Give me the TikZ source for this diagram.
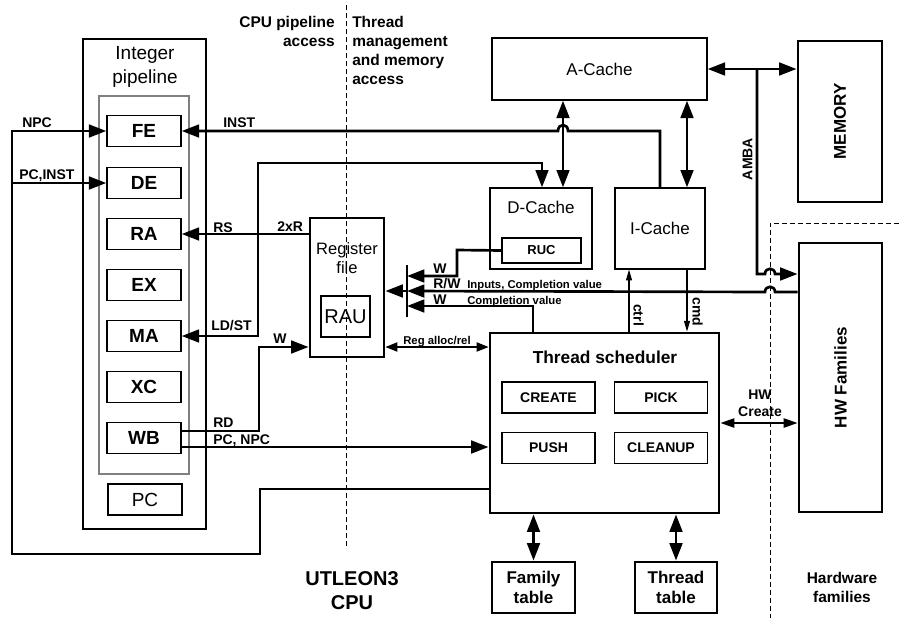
\documentclass[tikz,border=0pt]{standalone}
\usepackage{fontspec}
\setmainfont{Liberation Sans}
\usetikzlibrary{arrows.meta}

\tikzset{
  >={Triangle[length=13pt,width=9.5pt]},
  blk/.style={draw,line width=1pt,inner sep=0pt,font=\fontsize{12.75}{14.5}\selectfont},
  thk/.style={draw,line width=2.2pt,inner sep=0pt},
  stage/.style={draw,line width=1.1pt,inner sep=0pt,minimum width=55.5pt,minimum height=23.25pt,
    font=\fontsize{14.25}{16}\selectfont\bfseries},
  sub/.style={draw,line width=1pt,inner sep=0pt,minimum width=69.75pt,minimum height=23.25pt,
    font=\fontsize{10.5}{12}\selectfont\bfseries},
  lbl/.style={inner sep=0pt,anchor=base west,font=\fontsize{10.5}{12}\selectfont\bfseries},
  small/.style={inner sep=0pt,anchor=base west,font=\fontsize{8.5}{10}\selectfont\bfseries},
  big/.style={align=center,inner sep=0pt,font=\fontsize{11.6}{14.25}\selectfont\bfseries},
  wire/.style={line width=2pt},
  midwire/.style={line width=1.3pt,>={Triangle[length=10.5pt,width=7pt]}},
  thinwire/.style={line width=0.8pt,>={Triangle[length=8pt,width=4.5pt]}},
  dashline/.style={line width=0.75pt,dash pattern=on 3.75pt off 2.25pt},
}

\begin{document}
\begin{tikzpicture}[x=0.75pt,y=-0.75pt]
  \useasboundingbox (0,0) rectangle (899,618);

  % integer pipeline
  \node[thk,minimum width=92.25pt,minimum height=367.5pt] (ipipe) at (144.5,284) {};
  \node[draw=gray,line width=0.9pt,minimum width=67.5pt,minimum height=283.5pt] (stages) at (144,285) {};
  \node[align=center,font=\fontsize{14.25}{18.2}\selectfont] (iptitle) at (145,67) {Integer\\pipeline};
  \node[stage] (fe) at (144,131) {FE};
  \node[stage] (de) at (144,183) {DE};
  \node[stage] (ra) at (144,234) {RA};
  \node[stage] (ex) at (144,285) {EX};
  \node[stage] (ma) at (144,336) {MA};
  \node[stage] (xc) at (144,387) {XC};
  \node[stage] (wb) at (144,438) {WB};
  \node[blk,minimum width=55.5pt,minimum height=23.25pt,font=\fontsize{14.25}{16}\selectfont] (pc) at (145,499.5) {PC};

  % register file
  \node[thk,minimum width=55.5pt,minimum height=104.25pt] (rf) at (347,287.5) {};
  \node[align=center,font=\fontsize{12.4}{14.5}\selectfont] (rftitle) at (347,258) {Register\\file};
  \node[blk,minimum width=36.75pt,minimum height=30.75pt,font=\fontsize{15}{17}\selectfont] (rau) at (345.5,316.5) {RAU};

  % caches and memory
  \node[blk,minimum width=161.25pt,minimum height=46.5pt] (ac) at (599.5,69) {A-Cache};
  \node[blk,minimum width=76.5pt,minimum height=60.75pt] (dc) at (541,228.5) {};
  \node[font=\fontsize{12.75}{14}\selectfont] (dctitle) at (541,207) {D-Cache};
  \node[blk,minimum width=59.25pt,minimum height=18.75pt,font=\fontsize{9.75}{11}\selectfont\bfseries] (ruc) at (541.5,250.5) {RUC};
  \node[blk,minimum width=67.5pt,minimum height=60.75pt] (ic) at (660,228.5) {I-Cache};
  \node[thk,minimum width=63pt,minimum height=120.75pt] (mem) at (840,121.5) {};
  \node[rotate=90,font=\fontsize{12.75}{14}\selectfont\bfseries] (memtxt) at (840,121.5) {MEMORY};
  \node[thk,minimum width=62.25pt,minimum height=201.75pt] (hw) at (840.5,377.5) {};
  \node[rotate=90,font=\fontsize{12.75}{14}\selectfont\bfseries] (hwtxt) at (840.5,377.5) {HW Families};

  % thread scheduler
  \node[thk,minimum width=171.75pt,minimum height=135pt] (ts) at (604.5,423) {};
  \node[font=\fontsize{13}{15}\selectfont\bfseries] (tstitle) at (605,357) {Thread scheduler};
  \node[sub] (create) at (548.5,397.5) {CREATE};
  \node[sub] (pick) at (661,397.5) {PICK};
  \node[sub] (push) at (548.5,448) {PUSH};
  \node[sub] (cleanup) at (661,448) {CLEANUP};
  \node[thk,minimum width=62.25pt,minimum height=38.25pt,align=center,
    font=\fontsize{12.75}{14.5}\selectfont\bfseries] (ft) at (533.5,587.5) {Family\\table};
  \node[thk,minimum width=61.5pt,minimum height=38.25pt,align=center,
    font=\fontsize{12.75}{14.5}\selectfont\bfseries] (tt) at (676,587.5) {Thread\\table};

  % region borders and captions
  \draw[dashline] (346,5) -- (346,547);
  \draw[dashline] (899,223) -- (770,223) -- (770,618);
  \node[big,anchor=east,align=right] (cpuacc) at (335,31) {CPU pipeline\\access};
  \node[big,anchor=west,align=left] (thracc) at (352,50) {Thread\\management\\and memory\\access};
  \node[align=center,font=\fontsize{15}{18}\selectfont\bfseries] (cpu) at (352,591) {UTLEON3\\CPU};
  \node[big] (hwfam) at (842,587) {Hardware\\families};

  % register write bus
  \coordinate (bustop) at (407,265);
  \coordinate (busbot) at (407,317);
  \coordinate (busw) at (407,276);
  \coordinate (busrw) at (407,291);
  \coordinate (busc) at (407,306);
  \draw[line width=2pt] (bustop) -- (busbot);
  \draw[wire,->] (busrw) -- (rf.east |- busrw);

  % pipeline connections
  \draw[wire,->] (ts.west |- 0,489) -| (260,554) -| (12,131) -- (fe.west);
  \draw[wire,->] (12,183) -- (de.west);
  \draw[wire,->] (ic.north) -- (660,131) -- (568,131) .. controls (568,123) and (558,123) .. (558,131) -- (fe.east);
  \draw[wire,->] (rf.west |- ra.east) -- (ra.east);
  \draw[wire,<->] (ma.east) -- (258,336) -- (258,163) -- (542,163) -- (542,0 |- dc.north);
  \draw[wire,->] ([yshift=5.25pt]wb.east) -- (259,431) |- (rf.west |- 0,347);
  \draw[wire,->] ([yshift=-6.75pt]wb.east) -- (ts.west |- 0,447);

  % cache and memory connections
  \draw[wire,<->] (563,0 |- ac.south) -- (563,0 |- dc.north);
  \draw[wire,<->] (687,0 |- ac.south) -- (687,0 |- ic.north);
  \draw[wire,<->] (ac.east) -- (mem.west |- ac.east);
  \draw[wire,->] (757,0 |- ac.east) -- (757,274) -- (765,274) .. controls (765,267) and (775,267) .. (775,274) -- (hw.west |- 0,274);
  \draw[wire,->] (hw.west |- 0,292) -- (775,292) .. controls (775,285) and (765,285) .. (765,292) -- (busrw);
  \draw[wire,->] (ruc.west) -- (457,250) -- (457,276) -- (busw);
  \draw[wire,->] (533,0 |- ts.north) -- (533,306) -- (busc);
  \draw[thinwire,<->,>={Triangle[length=9pt,width=7pt]}] (rf.east |- 0,347) -- (ts.west |- 0,347);
  \draw[thinwire,->] (629,0 |- ts.north) -- (629,0 |- ic.south);
  \draw[thinwire,->] (687,0 |- ic.south) -- (687,0 |- ts.north);
  \draw[midwire,<->] (ts.east) -- (hw.west |- ts.east);
  \draw[wire,<->] (ft.north |- ts.south) -- (ft.north);
  \draw[wire,<->] (tt.north |- ts.south) -- (tt.north);

  % labels
  \node[lbl] (lnpc) at (22,127) {NPC};
  \node[lbl] (lpcinst) at (19,179) {PC,INST};
  \node[lbl] (linst) at (223,127) {INST};
  \node[lbl] (lrs) at (213,232) {RS};
  \node[lbl] (l2xr) at (277,231) {2xR};
  \node[lbl] (lldst) at (211,330) {LD/ST};
  \node[lbl] (lw) at (273,343) {W};
  \node[lbl] (lrd) at (213,427) {RD};
  \node[lbl] (lpcnpc) at (213,444) {PC, NPC};
  \node[lbl] (lwruc) at (433,273) {W};
  \node[lbl] (lrw) at (433,288) {R/W};
  \node[lbl] (lwts) at (433,304) {W};
  \node[small] (linputs) at (467,288) {Inputs, Completion value};
  \node[small] (lcompl) at (467,304) {Completion value};
  \node[small] (lreg) at (403,344) {Reg alloc/rel};
  \node[lbl,anchor=center,align=center,font=\fontsize{10.5}{12.5}\selectfont\bfseries] (lhwc) at (760,403) {HW\\Create};
  \node[lbl,anchor=center,rotate=90] (lamba) at (747.5,159) {AMBA};
  \node[lbl,anchor=center,rotate=-90] (lctrl) at (638.5,315) {ctrl};
  \node[lbl,anchor=center,rotate=-90] (lcmd) at (697.5,312) {cmd};
\end{tikzpicture}
\end{document}
